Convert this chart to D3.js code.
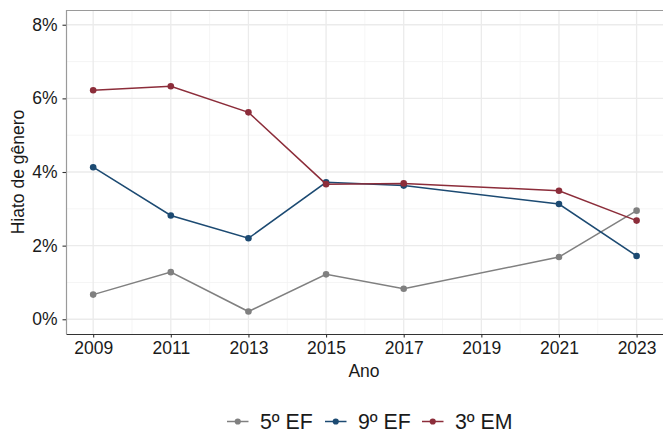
<!DOCTYPE html>
<html>
<head>
<meta charset="utf-8">
<script src="https://cdn.jsdelivr.net/npm/d3@7"></script>
<style>
  body { margin: 0; background: #fff; }
  svg text { font-family: "Liberation Sans", Arial, sans-serif; fill: #1a1a1a; }
</style>
</head>
<body>
<svg id="chart" width="663" height="430"></svg>
<script>
"use strict";

const years = [2009, 2011, 2013, 2015, 2017, 2021, 2023];
const seriesNames = ["5º EF", "9º EF", "3º EM"];
const ef5 = [0.67, 1.28, 0.21, 1.22, 0.83, 1.69, 2.95];
const ef9 = [4.13, 2.82, 2.20, 3.72, 3.63, 3.13, 1.72];
const em3 = [6.22, 6.33, 5.62, 3.67, 3.69, 3.49, 2.68];
const colors = ["#808080", "#1c4a72", "#8c2d3a"];
const xTicks = [2009, 2011, 2013, 2015, 2017, 2019, 2021, 2023];
const yTicks = [0, 2, 4, 6, 8];

const width = 663;
const height = 430;
const margin = { top: 10, right: 0, bottom: 96, left: 66 };
const innerWidth = width - margin.left - margin.right;
const innerHeight = height - margin.top - margin.bottom;
const axisFont = 17.5;

const series = seriesNames.map((name, i) => ({
    name: name,
    color: colors[i],
    values: years.map((y, j) => ({ year: y, v: [ef5, ef9, em3][i][j] }))
}));

// ggplot-style 5% expansion
const xScale = d3.scaleLinear().domain([2009 - 0.7, 2023 + 0.68]).range([0, innerWidth]);
const yScale = d3.scaleLinear().domain([-0.4, 8.4]).range([innerHeight, 0]);

const svg = d3.select("#chart");
const plot = svg.append("g")
    .attr("transform", `translate(${margin.left},${margin.top})`);

// minor grid
const xMinor = d3.range(2010, 2024, 2);
const yMinor = [1, 3, 5, 7];
plot.selectAll("line.xminor").data(xMinor).enter().append("line")
    .attr("x1", d => xScale(d)).attr("x2", d => xScale(d))
    .attr("y1", 0).attr("y2", innerHeight)
    .attr("stroke", "#f2f2f2").attr("stroke-width", 0.8);
plot.selectAll("line.yminor").data(yMinor).enter().append("line")
    .attr("y1", d => yScale(d)).attr("y2", d => yScale(d))
    .attr("x1", 0).attr("x2", innerWidth)
    .attr("stroke", "#f2f2f2").attr("stroke-width", 0.8);

// major grid
plot.selectAll("line.xmajor").data(xTicks).enter().append("line")
    .attr("x1", d => xScale(d)).attr("x2", d => xScale(d))
    .attr("y1", 0).attr("y2", innerHeight)
    .attr("stroke", "#ebebeb").attr("stroke-width", 1.3);
plot.selectAll("line.ymajor").data(yTicks).enter().append("line")
    .attr("y1", d => yScale(d)).attr("y2", d => yScale(d))
    .attr("x1", 0).attr("x2", innerWidth)
    .attr("stroke", "#ebebeb").attr("stroke-width", 1.3);

// panel border (left & top)
plot.append("path")
    .attr("d", `M0.5,${innerHeight}V0.5H${innerWidth}`)
    .attr("fill", "none").attr("stroke", "#9a9a9a").attr("stroke-width", 1.2);

// axes
const xAxis = d3.axisBottom(xScale).tickValues(xTicks).tickFormat(d3.format("d"))
    .tickSizeInner(3.5).tickSizeOuter(0).tickPadding(4);
const yAxis = d3.axisLeft(yScale).tickValues(yTicks).tickFormat(d => d + "%")
    .tickSizeInner(3.5).tickSizeOuter(0).tickPadding(5);

const gx = plot.append("g")
    .attr("transform", `translate(0,${innerHeight})`)
    .call(xAxis)
    .attr("font-size", axisFont)
    .attr("font-family", null);
gx.select(".domain").attr("stroke", "#333").attr("stroke-width", 1);
gx.selectAll(".tick line").attr("stroke", "#333").attr("stroke-width", 1.1);
gx.selectAll(".tick text").attr("font-size", axisFont).attr("fill", "#1a1a1a");

const gy = plot.append("g").call(yAxis)
    .attr("font-size", axisFont)
    .attr("font-family", null);
gy.select(".domain").remove();
gy.selectAll(".tick line").attr("stroke", "#333").attr("stroke-width", 1.1);
gy.selectAll(".tick text").attr("font-size", axisFont).attr("fill", "#1a1a1a");

// axis titles
svg.append("text")
    .attr("x", 364).attr("y", 377)
    .attr("text-anchor", "middle")
    .attr("font-size", axisFont)
    .text("Ano");
svg.append("text")
    .attr("transform", `translate(24,${margin.top + innerHeight / 2}) rotate(-90)`)
    .attr("text-anchor", "middle")
    .attr("font-size", axisFont)
    .text("Hiato de gênero");

// lines & points
const line = d3.line().x(d => xScale(d.year)).y(d => yScale(d.v));
series.forEach(s => {
    plot.append("path")
        .datum(s.values)
        .attr("d", line)
        .attr("fill", "none")
        .attr("stroke", s.color)
        .attr("stroke-width", 1.5);
    plot.selectAll(null).data(s.values).enter().append("circle")
        .attr("cx", d => xScale(d.year))
        .attr("cy", d => yScale(d.v))
        .attr("r", 3.3)
        .attr("fill", s.color);
});

// legend
const legendX = [227, 325, 422];
const legendY = 421.5;
const legend = svg.append("g");
series.forEach((s, i) => {
    const g = legend.append("g").attr("transform", `translate(${legendX[i]},${legendY})`);
    g.append("line").attr("x1", 0).attr("x2", 21.5).attr("y1", 0).attr("y2", 0)
        .attr("stroke", s.color).attr("stroke-width", 1.5);
    g.append("circle").attr("cx", 10.75).attr("cy", 0).attr("r", 3.1).attr("fill", s.color);
    g.append("text").attr("x", 33).attr("y", 0).attr("dy", "0.36em")
        .attr("font-size", 21.3)
        .text(s.name);
});
</script>
</body>
</html>
